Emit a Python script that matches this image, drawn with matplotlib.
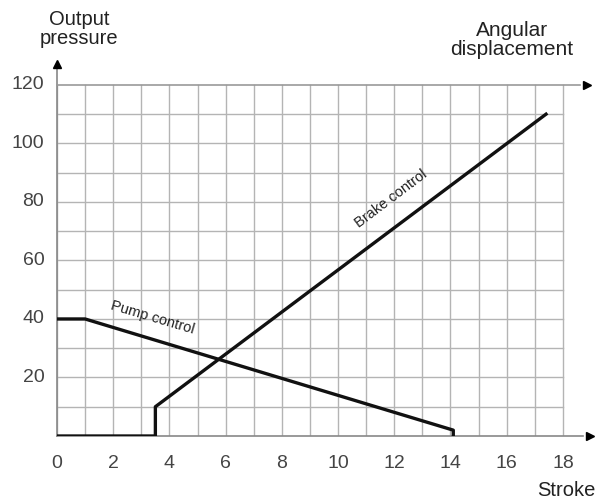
import matplotlib.pyplot as plt

# Data
pump_x = [0, 1, 14.1, 14.1]
pump_y = [40, 40, 2, 0]
brake_x = [0, 3.5, 3.5, 17.4]
brake_y = [0, 0, 10, 110]
x_ticks = [0, 2, 4, 6, 8, 10, 12, 14, 16, 18]
y_ticks = [20, 40, 60, 80, 100, 120]

plt.rcParams['font.family'] = ['Liberation Sans', 'DejaVu Sans']

fig = plt.figure(figsize=(5.98, 5.0), dpi=100)
ax = fig.add_axes([57 / 598, 0.128, 534 / 598, 0.749])
ax.set_xlim(0, 19)
ax.set_ylim(0, 128)
for s in ax.spines.values():
    s.set_visible(False)
ax.set_xticks([])
ax.set_yticks([])

grid_col = '#b4b4b4'
# vertical grid lines
for xv in range(0, 19):
    ax.plot([xv, xv], [0, 120], color=grid_col, lw=1.0, zorder=1)
# horizontal grid lines
for yv in range(10, 120, 10):
    ax.plot([0, 18], [yv, yv], color=grid_col, lw=1.0, zorder=1)

# axes with arrows
ax.plot([0, 0], [0, 126], color='#888888', lw=1.2, zorder=2, clip_on=False)
ax.plot([0, 18.7], [0, 0], color='#888888', lw=1.2, zorder=2, clip_on=False)
ax.plot([0, 18.6], [120, 120], color='#999999', lw=1.2, zorder=2, clip_on=False)
ax.plot([0], [127], marker='^', color='black', ms=6, clip_on=False, zorder=3)
ax.plot([18.95], [0], marker='>', color='black', ms=6, clip_on=False, zorder=3)
ax.plot([18.85], [120], marker='>', color='black', ms=6, clip_on=False, zorder=3)

# curves
ax.plot(pump_x, pump_y, color='#111111', lw=2.4, zorder=4, solid_joinstyle='round')
ax.plot(brake_x, brake_y, color='#111111', lw=2.4, zorder=4, solid_joinstyle='round')

ax.text(3.4, 40.5, 'Pump control', rotation=-16.5, fontsize=10.5,
        ha='center', va='center', color='#222222')
ax.text(11.9, 81, 'Brake control', rotation=37, fontsize=10.5,
        ha='center', va='center', color='#222222')

# tick labels
for xv in x_ticks:
    ax.text(xv, -9.5, str(xv), ha='center', va='center', fontsize=14,
            color='#444444', clip_on=False)
for yv in y_ticks:
    ax.text(-0.45, yv, str(yv), ha='right', va='center', fontsize=14,
            color='#444444', clip_on=False)

fig.text(79 / 598, 1 - 29 / 500, 'Output\npressure', ha='center', va='center',
         fontsize=14.5, color='#222222', linespacing=1.0)
fig.text(512 / 598, 1 - 40 / 500, 'Angular\ndisplacement', ha='center', va='center',
         fontsize=15, color='#222222', linespacing=1.0)
fig.text(596 / 598, 1 - 490 / 500, 'Stroke', ha='right', va='center',
         fontsize=14.5, color='#222222')

fig.savefig('out.png', dpi=100)
